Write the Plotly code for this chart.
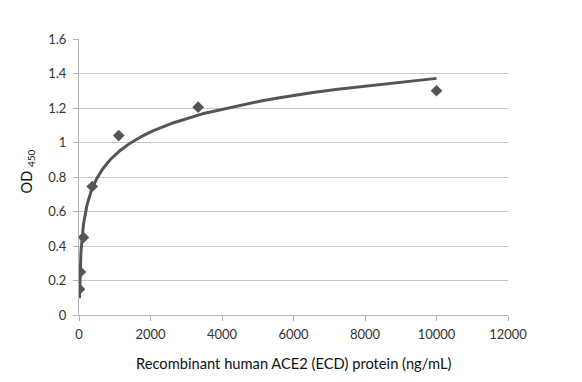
import numpy as np
import plotly.graph_objects as go

# Data
conc = [10000, 3333, 1111, 370, 123, 41, 13.7]
od450 = [1.30, 1.205, 1.04, 0.745, 0.45, 0.25, 0.15]
x_ticks = [0, 2000, 4000, 6000, 8000, 10000, 12000]
y_ticks = [0, 0.2, 0.4, 0.6, 0.8, 1, 1.2, 1.4, 1.6]
y_tick_text = ["0", "0.2", "0.4", "0.6", "0.8", "1", "1.2", "1.4", "1.6"]

# Logarithmic trendline fitted to the data (as in the reference)
lx = np.log(np.array(conc, dtype=float))
a, b = np.polyfit(lx, np.array(od450), 1)
xs = np.linspace(min(conc), max(conc), 2000)
ys = a * np.log(xs) + b

# page body has an 8px margin, so the figure is offset by 8px
W, H = 574, 374
L, R, T, B = 71, 74, 31, 67
pw, ph = W - L - R, H - T - B

fig = go.Figure()
fig.add_trace(go.Scatter(x=xs, y=ys, mode="lines",
                         line=dict(color="#555555", width=3), hoverinfo="skip"))
fig.add_trace(go.Scatter(x=conc, y=od450, mode="markers",
                         marker=dict(symbol="diamond", size=9, color="#555555")))

font_family = "Lato, 'Open Sans', sans-serif"
fig.update_layout(
    width=W, height=H,
    margin=dict(l=L, r=R, t=T, b=B),
    paper_bgcolor="white", plot_bgcolor="white",
    showlegend=False,
    font=dict(family=font_family, size=13, color="#333333"),
    xaxis=dict(range=[0, 12000], tickvals=x_ticks, ticktext=[str(v) for v in x_ticks],
               showgrid=False, zeroline=False, showline=True, linecolor="#b3b3b3",
               linewidth=1, ticks="outside", ticklen=5, tickcolor="#b3b3b3",
               ticklabelstandoff=2,
               tickfont=dict(size=13, color="#333333")),
    yaxis=dict(range=[0, 1.6], tickvals=y_ticks, ticktext=y_tick_text,
               showgrid=True, gridcolor="#c8c8c8", gridwidth=1, zeroline=False,
               showline=True, linecolor="#b3b3b3", linewidth=1,
               ticks="outside", ticklen=5, tickcolor="#b3b3b3",
               ticklabelstandoff=4,
               tickfont=dict(size=13, color="#333333")),
    annotations=[
        dict(text="Recombinant human ACE2 (ECD) protein (ng/mL)", xref="paper", yref="paper",
             x=0.5, y=-48 / ph, xanchor="center", yanchor="middle", showarrow=False,
             font=dict(size=14.7, color="#111111", family=font_family)),
        dict(text="OD <sub>450</sub>", xref="paper", yref="paper",
             x=-(L + 8 - 27) / pw, y=0.52, xanchor="center", yanchor="middle", showarrow=False,
             textangle=-90, font=dict(size=14.5, color="#111111", family=font_family)),
    ],
)

fig.write_html("out.html")
